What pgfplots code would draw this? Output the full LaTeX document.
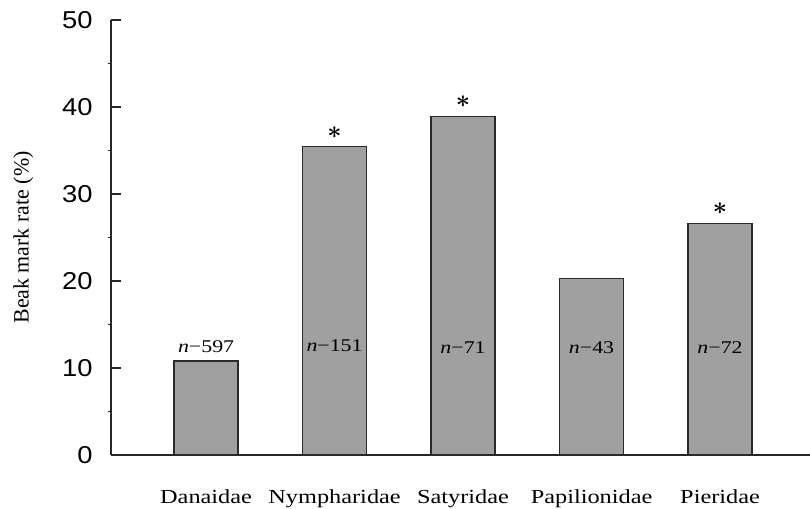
\documentclass[border=0pt]{standalone}
\usepackage{pgfplots}
\pgfplotsset{compat=1.18}
\usepackage{fontspec}
\setmainfont{Liberation Serif}
\setsansfont{Liberation Sans}
\newfontfamily\serifwide{Liberation Serif}[FakeStretch=1.22]
\newfontfamily\sanswide{Liberation Sans}[FakeStretch=1.12]
\definecolor{barfill}{HTML}{A0A0A0}
\definecolor{barline}{HTML}{2A2A2A}
\begin{document}
\begin{tikzpicture}
\useasboundingbox (-111bp,-54bp) rectangle (699bp,455bp);
\begin{axis}[
  at={(0,0)}, anchor=south west,
  scale only axis,
  width=699bp, height=435bp,
  xmin=-0.74, xmax=4.70,
  ymin=0, ymax=50,
  axis x line=bottom, axis y line=left,
  axis line style={-, line width=1.2pt, color=black!85},
  xtick={0,1,2,3,4},
  xticklabels={Danaidae, Nympharidae, Satyridae, Papilionidae, Pieridae},
  x tick style={draw=none},
  xticklabel style={font=\serifwide\fontsize{20}{22}\selectfont, anchor=base, yshift=-48bp},
  ytick={0,10,20,30,40,50},
  minor y tick num=1,
  tick align=inside,
  major tick length=10bp,
  minor tick length=2.5bp,
  minor y tick style={xshift=-2.5bp},
  y tick style={line width=1.1pt, color=black!85},
  /pgf/number format/assume math mode=true,
  yticklabel style={font=\sanswide\fontsize{24.5}{26}\selectfont, xshift=-15bp},
  ylabel={Beak mark rate (\%)},
  ylabel style={font=\fontsize{22}{24}\selectfont, yshift=22bp},
  clip=false,
]
\addplot[ybar, bar width=64bp, bar shift=0pt, fill=barfill, draw=barline, line width=1.2pt]
  coordinates {(0,10.8) (1,35.5) (2,38.9) (3,20.3) (4,26.6)};
\addplot[only marks, mark=none, point meta=explicit symbolic,
  nodes near coords, nodes near coords align={center},
  every node near coord/.append style={font=\serifwide\fontsize{18}{20}\selectfont, anchor=center}]
  coordinates {(0,12.4)[\textit{n}−597] (1,12.6)[\textit{n}−151] (2,12.3)[\textit{n}−71] (3,12.3)[\textit{n}−43] (4,12.3)[\textit{n}−72]};
\addplot[only marks, mark=none, point meta=explicit symbolic,
  nodes near coords, nodes near coords align={center},
  every node near coord/.append style={font=\fontsize{36}{38}\selectfont\boldmath, anchor=center, inner sep=0pt}]
  coordinates {(1,37.1)[$\ast$] (2,40.6)[$\ast$] (4,28.3)[$\ast$]};
\end{axis}
\end{tikzpicture}
\end{document}
